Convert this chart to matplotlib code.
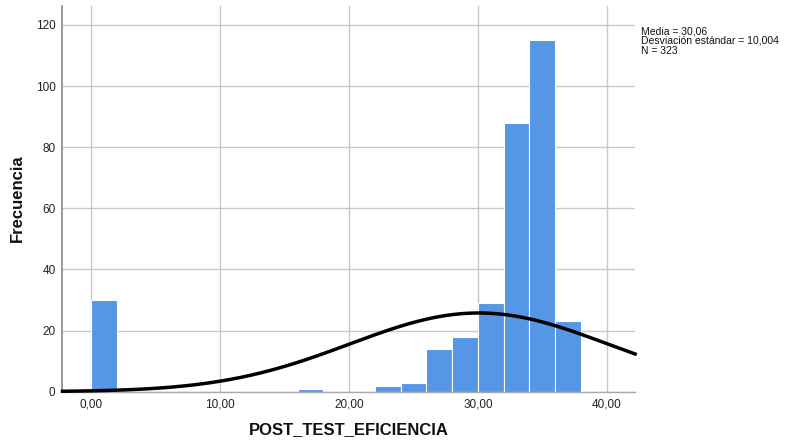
import numpy as np
import matplotlib
matplotlib.use("Agg")
import matplotlib.pyplot as plt

bin_edges = [0, 2, 4, 6, 8, 10, 12, 14, 16, 18, 20, 22, 24, 26, 28, 30, 32, 34, 36, 38]
counts = [30, 0, 0, 0, 0, 0, 0, 0, 1, 0, 0, 2, 3, 14, 18, 29, 88, 115, 23]
mean = 30.06
std = 10.004
n = 323
xticks = [0, 10, 20, 30, 40]
xticklabels = ["0,00", "10,00", "20,00", "30,00", "40,00"]
yticks = [0, 20, 40, 60, 80, 100, 120]

plt.rcParams['font.family'] = ['Liberation Sans', 'DejaVu Sans']

fig = plt.figure(figsize=(7.88, 4.42), dpi=100)
ax = fig.add_axes([0.0793, 0.1138, 0.7267, 0.8726])

xlim = (-2.25, 42.2)
ax.set_xlim(*xlim)
ax.set_ylim(0, 126.2)

ax.set_axisbelow(True)
ax.grid(True, color="#c8c8c8", linewidth=1.0)

left = np.array(bin_edges[:-1])
widths = np.diff(bin_edges)
ax.bar(left, counts, width=widths, align="edge", color="#5596e5",
       edgecolor="white", linewidth=0.8, zorder=2)

binw = bin_edges[1] - bin_edges[0]
xs = np.linspace(xlim[0], xlim[1], 400)
ys = n * binw * np.exp(-0.5 * ((xs - mean) / std) ** 2) / (std * np.sqrt(2 * np.pi))
ax.plot(xs, ys, color="black", linewidth=2.5, zorder=3, clip_on=False)

ax.set_xticks(xticks)
ax.set_xticklabels(xticklabels)
ax.set_yticks(yticks)
ax.tick_params(length=0, labelsize=8.5, colors="#222222", pad=5)

for s in ["top", "right"]:
    ax.spines[s].set_visible(False)
ax.spines["left"].set_color("#888888")
ax.spines["left"].set_linewidth(1.2)
ax.spines["bottom"].set_color("#aaaaaa")
ax.spines["bottom"].set_linewidth(1.0)

fig.text(349 / 788, 1 - 430 / 442, "POST_TEST_EFICIENCIA", fontsize=12,
         fontweight="bold", ha="center", va="center", color="#111111")
fig.text(17 / 788, 1 - 198 / 442, "Frecuencia", fontsize=12, rotation=90,
         fontweight="bold", ha="center", va="center", color="#111111")

fig.text(641 / 788, 1 - 26 / 442,
         "Media = 30,06\nDesviación estándar = 10,004\nN = 323",
         fontsize=7.5, va="top", ha="left", linespacing=0.98, color="#111111")

fig.savefig("out.png", dpi=100)
